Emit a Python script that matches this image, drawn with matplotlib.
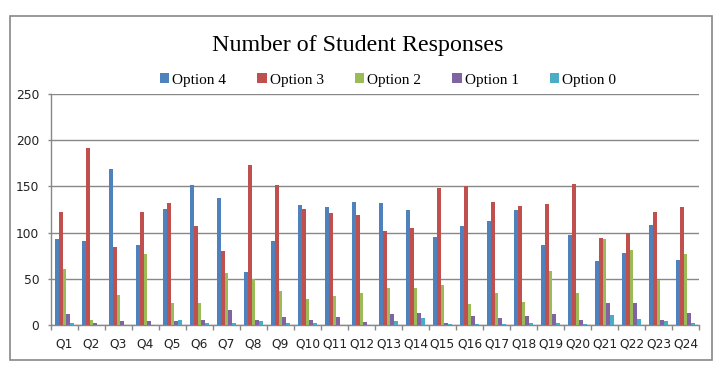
import matplotlib
matplotlib.use("Agg")
import matplotlib.pyplot as plt
import numpy as np
from matplotlib.patches import Rectangle

questions = [f"Q{i}" for i in range(1, 25)]
series_names = ["Option 4", "Option 3", "Option 2", "Option 1", "Option 0"]
option4 = [93, 91, 169, 87, 126, 151, 137, 57, 91, 130, 128, 133, 132, 125, 95, 107, 113, 125, 87, 97, 69, 78, 108, 70]
option3 = [122, 192, 84, 122, 132, 107, 80, 173, 152, 126, 121, 119, 102, 105, 148, 150, 133, 129, 131, 153, 94, 100, 122, 128]
option2 = [61, 5, 32, 77, 24, 24, 56, 50, 37, 28, 31, 35, 40, 40, 43, 23, 35, 25, 58, 35, 93, 81, 49, 77]
option1 = [12, 2, 4, 4, 4, 5, 16, 5, 9, 5, 9, 3, 12, 13, 2, 10, 8, 10, 12, 5, 24, 24, 5, 13]
option0 = [2, 0, 0, 0, 5, 2, 2, 4, 2, 2, 0, 0, 4, 8, 1, 1, 1, 2, 2, 1, 11, 7, 4, 2]
colors = ["#4F81BD", "#C0504D", "#9BBB59", "#8064A2", "#4BACC6"]
yticks = [0, 50, 100, 150, 200, 250]

W, H = 723, 374
fig = plt.figure(figsize=(W / 100, H / 100), dpi=100)
fig.patch.set_facecolor("white")

# outer border
fig.patches.append(Rectangle((10 / W, 1 - 360 / H), (712 - 10) / W, (360 - 16) / H,
                             transform=fig.transFigure, fill=False,
                             edgecolor="#888888", linewidth=1.2))

ax = fig.add_axes([51 / W, 1 - 325 / H, (699 - 51) / W, (325 - 94) / H])
data = [option4, option3, option2, option1, option0]
x = np.arange(len(questions))
bw = 0.148
for i, (vals, c, name) in enumerate(zip(data, colors, series_names)):
    ax.bar(x + (i - 2) * bw, vals, width=bw, color=c, label=name, zorder=3, linewidth=0)

ax.set_xlim(-0.5, len(questions) - 0.5)
ax.set_ylim(0, 250)
ax.set_yticks(yticks)
ax.set_yticklabels([str(v) for v in yticks], fontsize=8.8, color="#222222")
ax.set_xticks(x)
ax.set_xticklabels(questions, fontsize=8.8, color="#222222")
ax.tick_params(axis="x", length=0, pad=9)
ax.set_xticks(np.arange(-0.5, len(questions)), minor=True)
ax.tick_params(axis="x", which="minor", length=3.5, color="#888888", width=1)
ax.tick_params(axis="y", length=2.5, color="#888888", width=1, pad=6)
ax.grid(axis="y", color="#888888", linewidth=1, zorder=0)
for s in ["top", "right"]:
    ax.spines[s].set_visible(False)
for s in ["left", "bottom"]:
    ax.spines[s].set_color("#888888")
    ax.spines[s].set_linewidth(1)

fig.text(358 / W, 1 - 46 / H, "Number of Student Responses", ha="center", va="center",
         fontsize=17.3, family="Liberation Serif")
leg = fig.legend(loc="center", bbox_to_anchor=(388 / W, 1 - 80 / H), ncol=5, frameon=False,
                 prop={"family": "Liberation Serif", "size": 11}, handlelength=0.6,
                 handleheight=0.6, handletextpad=0.2, columnspacing=2.05)

fig.savefig("out.png", dpi=100)
